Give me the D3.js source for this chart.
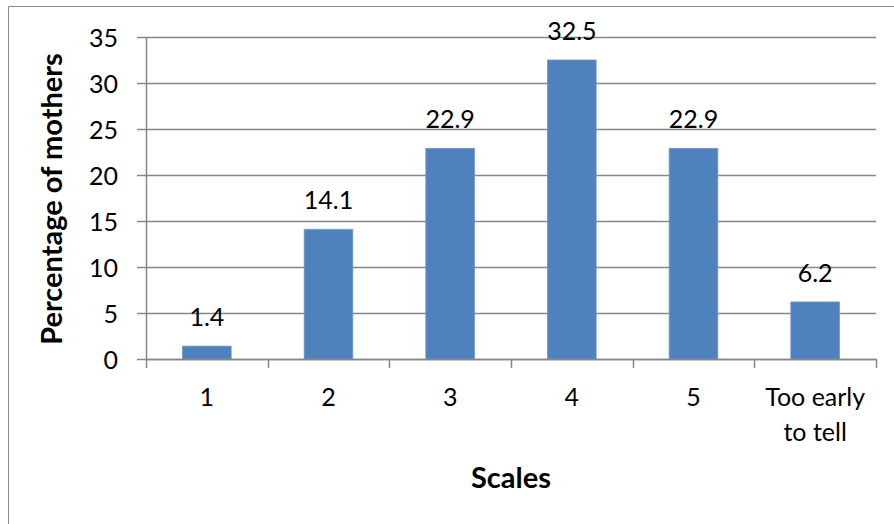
<!DOCTYPE html>
<html><head><meta charset="utf-8">
<script src="https://cdn.jsdelivr.net/npm/d3@7"></script>
<style>body{margin:0;background:#fff}svg{display:block}text{font-family:Lato,"Open Sans",sans-serif;fill:#000}</style>
</head><body>
<svg id="c" width="894" height="524"></svg>
<script>
const categories = ["1","2","3","4","5","Too early|to tell"];
const values = [1.4, 14.1, 22.9, 32.5, 22.9, 6.2];
const yTicks = [0,5,10,15,20,25,30,35];
const yTitle = "Percentage of mothers";
const xTitle = "Scales";

const svg = d3.select("#c");
const L = 146, R = 876, T = 37, B = 359;
const grey = "#878787";
const FS = 25;

// outer frame (cut at right/bottom like the reference)
svg.append("path").attr("d","M8.5,530V6.5H900").attr("fill","none").attr("stroke","#8c8c8c").attr("stroke-width",1);

const x = d3.scaleBand().domain(d3.range(categories.length)).range([L,R]).paddingInner(0.6).paddingOuter(0.3);
const y = d3.scaleLinear().domain([0,35]).range([B,T]);

// gridlines
svg.append("g").selectAll("line").data(yTicks).join("line")
  .attr("x1",L).attr("x2",R).attr("y1",d=>Math.round(y(d))+0.5).attr("y2",d=>Math.round(y(d))+0.5)
  .attr("stroke",grey).attr("stroke-width",1.5);

// bars
svg.append("g").selectAll("rect").data(values).join("rect")
  .attr("x",(d,i)=>x(i)).attr("width",x.bandwidth())
  .attr("y",d=>y(d)).attr("height",d=>y(0)-y(d))
  .attr("fill","#4f81bd").attr("stroke","#6f97c9").attr("stroke-width",0.8);

// data labels
svg.append("g").selectAll("text").data(values).join("text")
  .attr("x",(d,i)=>x(i)+x.bandwidth()/2).attr("y",d=>y(d)-20)
  .attr("text-anchor","middle").attr("font-size",FS).text(d=>d.toFixed(1));

// y axis
const ya = svg.append("g").attr("transform",`translate(${L},0)`)
  .call(d3.axisLeft(y).tickValues(yTicks).tickSize(9).tickPadding(19).tickFormat(d3.format("d")));
ya.selectAll("line,path").attr("stroke",grey).attr("stroke-width",1.5);
ya.select("path").attr("d",`M0.5,${B}V${T}`);
ya.selectAll("text").attr("font-size",FS).attr("font-family","Lato").attr("fill","#000").attr("dy","0.36em");

// x axis (ticks at band boundaries)
const bounds = d3.range(categories.length+1).map(i=>L+i*(R-L)/categories.length);
const xa = svg.append("g");
xa.append("line").attr("x1",L).attr("x2",R).attr("y1",B+0.5).attr("y2",B+0.5).attr("stroke",grey).attr("stroke-width",1.5);
xa.selectAll("line.t").data(bounds).join("line").attr("class","t")
  .attr("x1",d=>Math.round(d)+0.5).attr("x2",d=>Math.round(d)+0.5).attr("y1",B).attr("y2",B+9)
  .attr("stroke",grey).attr("stroke-width",1.5);
xa.selectAll("text").data(categories).join("text")
  .attr("x",(d,i)=>x(i)+x.bandwidth()/2).attr("y",406)
  .attr("text-anchor","middle").attr("font-size",FS)
  .each(function(d){
    const parts = d.split("|");
    d3.select(this).selectAll("tspan").data(parts).join("tspan")
      .attr("x",d3.select(this).attr("x")).attr("dy",(p,j)=>j?35:0).text(p=>p);
  });

// axis titles
svg.append("text").attr("x",(L+R)/2).attr("y",488).attr("text-anchor","middle")
  .attr("font-size",29).attr("font-weight","bold").text(xTitle);
svg.append("text").attr("transform",`translate(62,${(T+B)/2+1}) rotate(-90)`).attr("text-anchor","middle")
  .attr("font-size",29).attr("font-weight","bold").text(yTitle);
</script>
</body></html>
